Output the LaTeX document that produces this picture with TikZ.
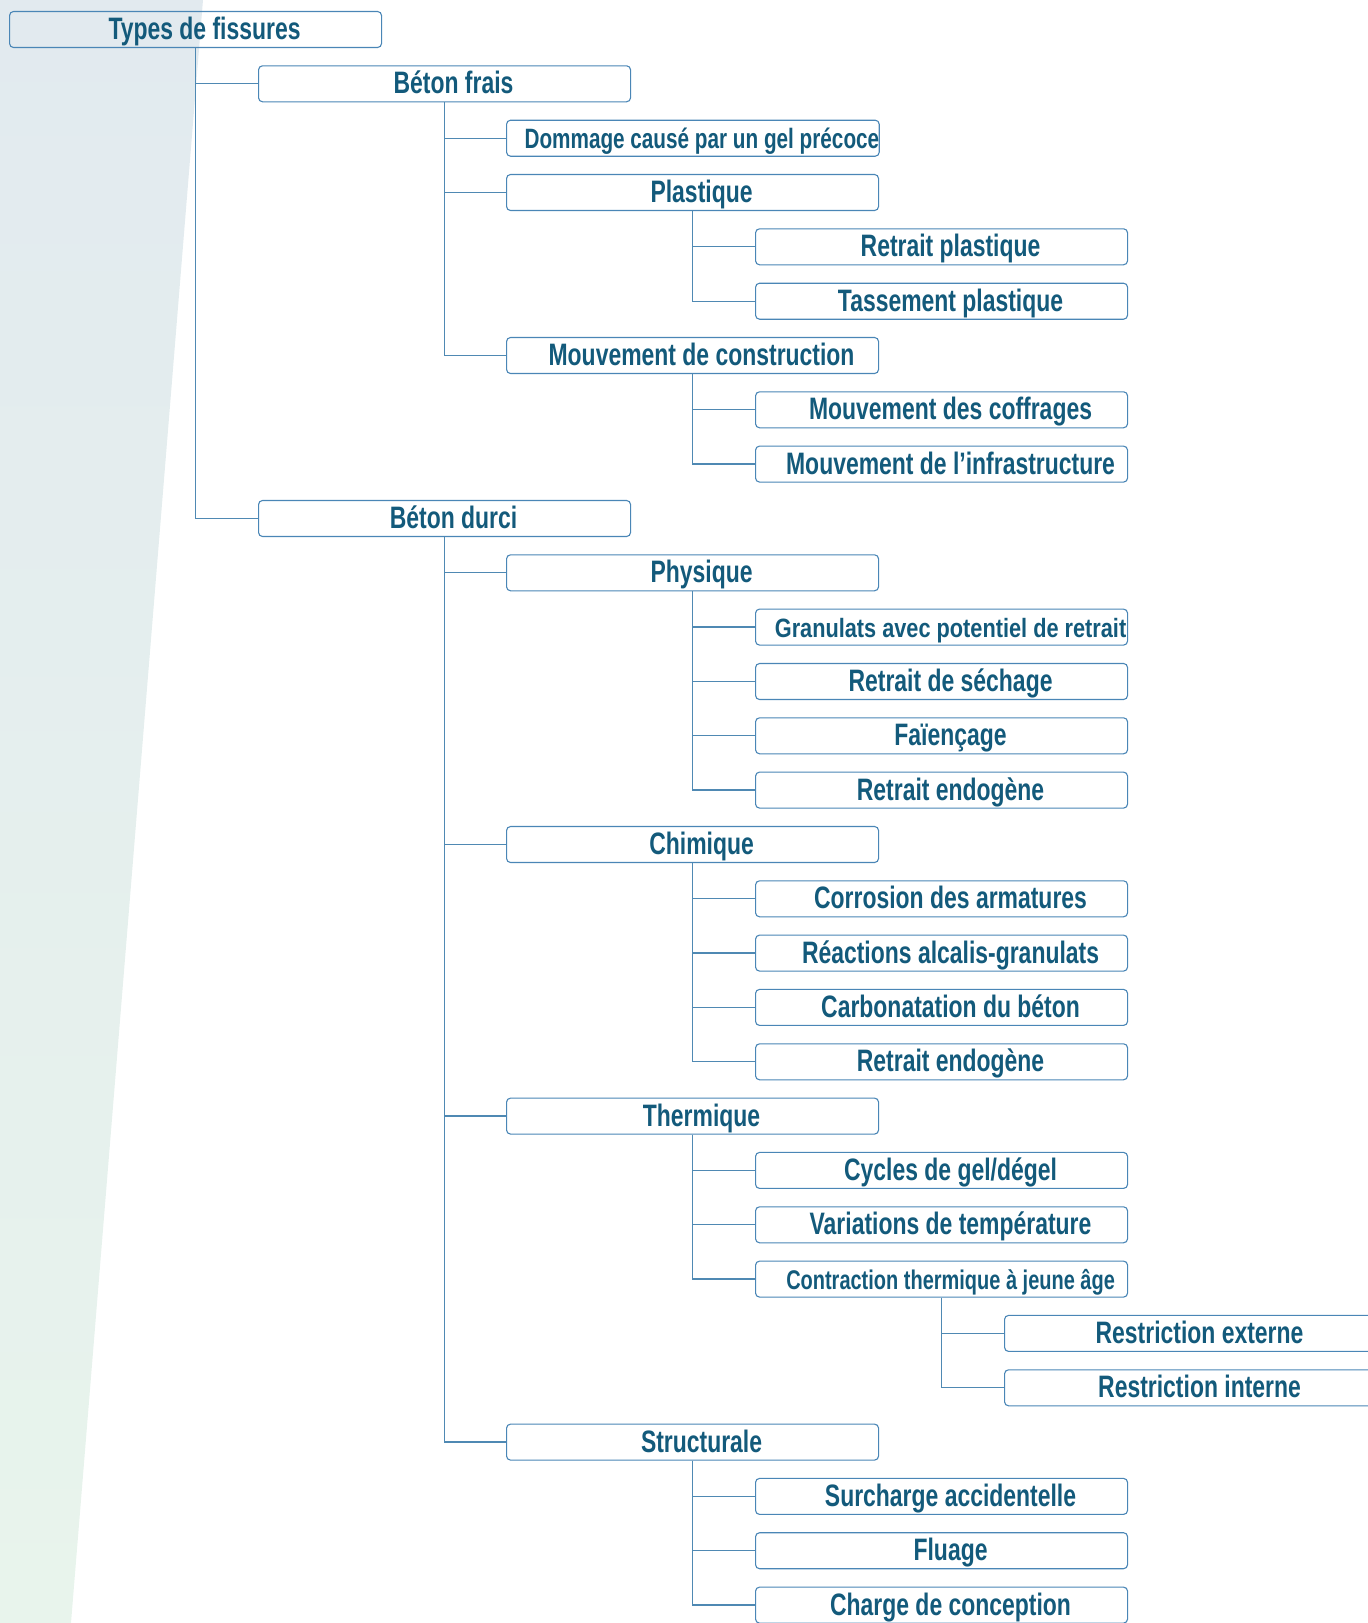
\documentclass[tikz,border=0pt]{standalone}
\usepackage{fontspec}
\setmainfont[FakeStretch=0.74]{Liberation Sans}
\newfontfamily\granfont[FakeStretch=0.82]{Liberation Sans}
\usetikzlibrary{positioning}
\definecolor{fsInk}{HTML}{135A7B}
\definecolor{fsEdge}{HTML}{4A86B6}
\definecolor{fsLine}{HTML}{4F89B3}
\definecolor{fsPanelTop}{HTML}{E2EAEF}
\definecolor{fsPanelBot}{HTML}{E8F4EC}

\begin{document}
\begin{tikzpicture}[x=1pt, y=-1pt,
  cat/.style={draw=fsEdge, line width=1.1pt, rounded corners=4pt, minimum width=372pt, minimum height=36pt, inner sep=0pt, text height=28pt, text depth=8pt, anchor=west, text=fsInk, font=\fontsize{31}{33}\selectfont\bfseries, execute at begin node={\hspace*{18pt}}},
  small/.style={font=\fontsize{27}{29}\selectfont\bfseries},
  link/.style={fsLine, line width=1.3pt}]
\useasboundingbox (0,0) rectangle (1368,1623);
\shade[top color=fsPanelTop, bottom color=fsPanelBot] (0,0) -- (203,0) -- (71,1623) -- (0,1623) -- cycle;
% level 0 / 1
\node[cat] (types) at (9,29.5) {Types de fissures};
\node[cat] (frais) at (258,83.8) {Béton frais};
\node[cat] (durci) at (258,518.5) {Béton durci};
% beton frais
\node[cat, font=\fontsize{28}{30}\selectfont\bfseries] (gel) at (506,138.2) {Dommage causé par un gel précoce};
\node[cat] (plast) at (506,192.5) {Plastique};
\node[cat] (rplast) at (755,246.8) {Retrait plastique};
\node[cat] (tplast) at (755,301.2) {Tassement plastique};
\node[cat] (constr) at (506,355.5) {Mouvement de construction};
\node[cat] (coffr) at (755,409.8) {Mouvement des coffrages};
\node[cat] (infra) at (755,464.1) {Mouvement de l’infrastructure};
% beton durci
\node[cat] (phys) at (506,572.8) {Physique};
\node[cat, font=\fontsize{26.5}{28}\granfont\bfseries] (gran) at (755,627.1) {Granulats avec potentiel de retrait};
\node[cat] (sech) at (755,681.5) {Retrait de séchage};
\node[cat] (faien) at (755,735.8) {Faïençage};
\node[cat] (endoA) at (755,790.1) {Retrait endogène};
\node[cat] (chim) at (506,844.5) {Chimique};
\node[cat] (corr) at (755,898.8) {Corrosion des armatures};
\node[cat] (alcal) at (755,953.1) {Réactions alcalis-granulats};
\node[cat] (carb) at (755,1007.4) {Carbonatation du béton};
\node[cat] (endoB) at (755,1061.8) {Retrait endogène};
\node[cat] (therm) at (506,1116.1) {Thermique};
\node[cat] (cycl) at (755,1170.4) {Cycles de gel/dégel};
\node[cat] (temp) at (755,1224.8) {Variations de température};
\node[cat, small] (contr) at (755,1279.1) {Contraction thermique à jeune âge};
\node[cat] (rext) at (1004,1333.4) {Restriction externe};
\node[cat] (rint) at (1004,1387.8) {Restriction interne};
\node[cat] (struc) at (506,1442.1) {Structurale};
\node[cat] (surch) at (755,1496.4) {Surcharge accidentelle};
\node[cat] (flu) at (755,1550.7) {Fluage};
\node[cat] (charge) at (755,1605.1) {Charge de conception};
% branches
\foreach \p/\c in {types/frais, types/durci,
  frais/gel, frais/plast, frais/constr, plast/rplast, plast/tplast, constr/coffr, constr/infra,
  durci/phys, durci/chim, durci/therm, durci/struc,
  phys/gran, phys/sech, phys/faien, phys/endoA,
  chim/corr, chim/alcal, chim/carb, chim/endoB,
  therm/cycl, therm/temp, therm/contr, contr/rext, contr/rint,
  struc/surch, struc/flu, struc/charge}
  \draw[link] (\p.south) |- (\c.west);
\end{tikzpicture}
\end{document}
